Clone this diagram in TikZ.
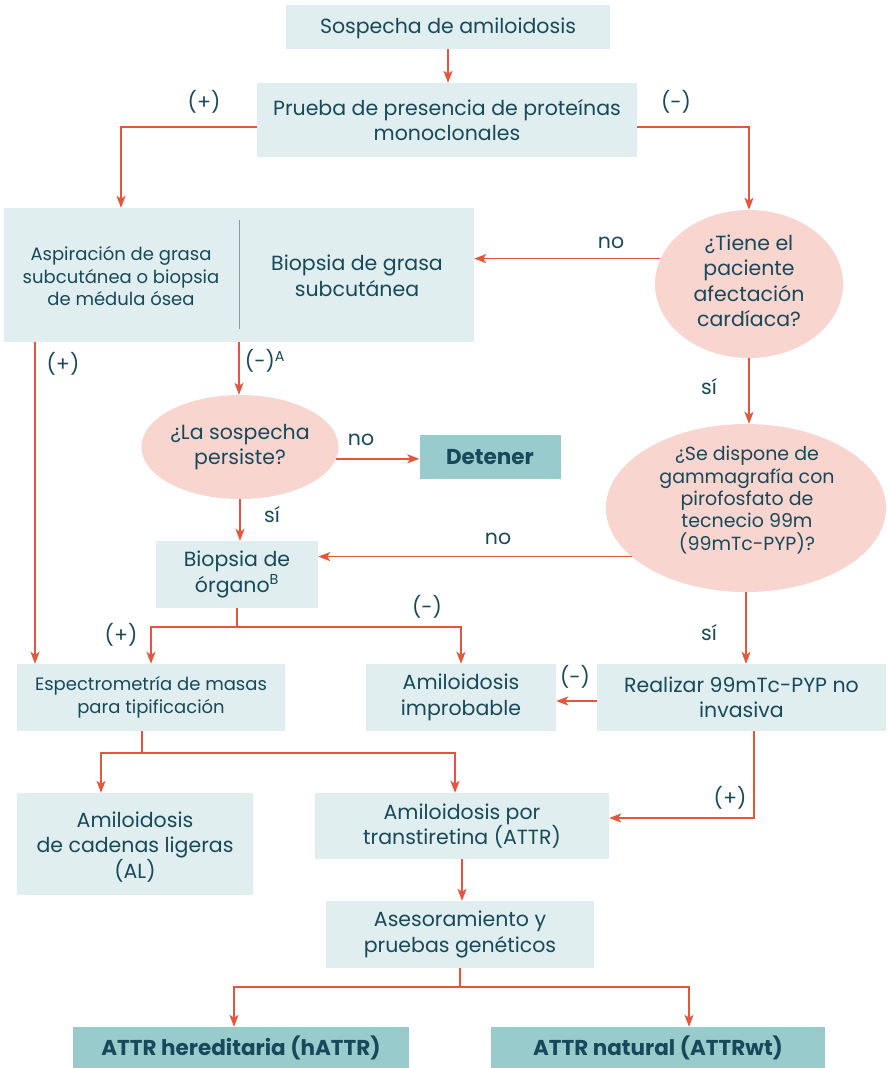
\documentclass[tikz,border=0pt]{standalone}
\usepackage{fontspec}
\setmainfont{Poppins}
\usetikzlibrary{arrows.meta,shapes.geometric}
\definecolor{boxfill}{HTML}{E0EEEF}
\definecolor{tealfill}{HTML}{97CBCC}
\definecolor{pinkfill}{HTML}{F8D5CF}
\definecolor{arrowc}{HTML}{E8553D}
\definecolor{txt}{HTML}{17495A}
\definecolor{divc}{HTML}{8A9A9E}
\tikzset{
  mainfont/.style={font=\fontsize{20.5}{25.5}\selectfont},
  smallfont/.style={font=\fontsize{18}{22.5}\selectfont},
  midfont/.style={font=\fontsize{19}{22.3}\selectfont},
  lbox/.style={fill=boxfill, inner sep=0pt, align=center, text=txt, mainfont},
  tbox/.style={fill=tealfill, inner sep=0pt, align=center, text=txt, font=\fontsize{21.5}{25}\selectfont\bfseries},
  qell/.style={ellipse, fill=pinkfill, inner sep=0pt, align=center, text=txt, mainfont},
  lab/.style={text=txt, mainfont, inner sep=0pt},
  arr/.style={draw=arrowc, line width=1.5pt, -{Stealth[length=12pt,width=9pt,inset=3pt]}},
  ln/.style={draw=arrowc, line width=1.5pt},
}
\begin{document}
\begin{tikzpicture}[x=1pt,y=-1pt]
\useasboundingbox (0,0) rectangle (888,1068);
% nodes
\node[lbox, minimum width=324pt, minimum height=44pt, text depth=3pt] (s1) at (448,27) {Sospecha de amiloidosis};
\node[lbox, minimum width=380pt, minimum height=74pt] (p) at (447,120) {Prueba de presencia de proteínas\\monoclonales};
\node[fill=boxfill, inner sep=0pt, minimum width=470pt, minimum height=134pt] (bb) at (239,275) {};
\node[text=txt, smallfont, align=center, inner sep=0pt] (bl) at (121,276) {Aspiración de grasa\\subcutánea o biopsia\\de médula ósea};
\node[text=txt, mainfont, align=center, inner sep=0pt] (br) at (357,276) {Biopsia de grasa\\subcutánea};
\coordinate (y220) at (0,220);
\coordinate (y329) at (0,329);
\draw[divc, line width=1pt] (bb.north |- y220) -- (bb.south |- y329);
\node[qell, minimum width=188pt, minimum height=148pt] (e1) at (749,284) {};
\node[text=txt, mainfont, align=center, inner sep=0pt] (e1t) at (749,281) {¿Tiene el\\paciente\\afectación\\cardíaca?};
\node[qell, minimum width=190pt, minimum height=104pt] (e2) at (240,447) {¿La sospecha\\persiste?};
\node[tbox, minimum width=141pt, minimum height=44pt] (det) at (490,457) {Detener};
\node[lbox, minimum width=162pt, minimum height=67pt] (bo) at (237,574.5) {Biopsia de\\órgano\textsuperscript{B}};
\node[qell, minimum width=280pt, minimum height=168pt] (e3) at (746,508) {};
\node[text=txt, midfont, align=center, inner sep=0pt] (e3t) at (747,500) {¿Se dispone de\\gammagrafía con\\pirofosfato de\\tecnecio 99m\\(99mTc-PYP)?};
\node[lbox, smallfont, minimum width=268pt, minimum height=67pt] (esp) at (151,697.5) {Espectrometría de masas\\para tipificación};
\node[lbox, minimum width=190pt, minimum height=67pt] (ai) at (461,697.5) {Amiloidosis\\improbable};
\node[lbox, minimum width=289pt, minimum height=67pt] (re) at (741.5,697.5) {Realizar 99mTc-PYP no\\invasiva};
\node[lbox, minimum width=236pt, minimum height=102pt] (al) at (135,844) {};
\node[text=txt, mainfont, align=center, inner sep=0pt] (alt) at (135,847) {Amiloidosis\\de cadenas ligeras\\(AL)};
\node[lbox, minimum width=294pt, minimum height=66pt] (attr) at (462,826) {Amiloidosis por\\transtiretina (ATTR)};
\node[lbox, minimum width=268pt, minimum height=67pt] (ase) at (460,934.5) {Asesoramiento y\\pruebas genéticos};
\node[tbox, minimum width=336pt, minimum height=41pt] (h) at (241,1047.5) {ATTR hereditaria (hATTR)};
\node[tbox, minimum width=334pt, minimum height=41pt] (wt) at (658,1047.5) {ATTR natural (ATTRwt)};
% helper coordinates
\coordinate (x35) at (35,0);
\coordinate (x142) at (142,0);
\coordinate (x101) at (101,0);
\coordinate (x455) at (455,0);
\coordinate (x754) at (754,0);
\coordinate (x234) at (234,0);
\coordinate (x689) at (689,0);
\coordinate (y127) at (0,127);
\coordinate (y753) at (0,753);
\coordinate (y818) at (0,818);
\coordinate (y987) at (0,987);
\coordinate (y627) at (0,627);
\coordinate (y701) at (0,701);
% connectors
\draw[arr] (s1.south) -- (s1.south |- p.north);
\draw[arr] (p.west |- y127) -| (bl |- bb.north);
\draw[arr] (p.east |- y127) -| (e1.north);
\draw[arr] (e1.164) -- (e1.164 -| bb.east);
\draw[arr] (bb.south -| x35) -- (esp.north -| x35);
\draw[arr] (bb.south) -- (bb.south |- e2.north);
\draw[arr] (e2.-7) -- (e2.-7 -| det.west);
\draw[arr] (e2.south) -- (e2.south |- bo.north);
\draw[ln] (bo.south) -- (bo.south |- y627);
\draw[arr] (bo.south |- y627) -| (esp.north);
\draw[arr] (bo.south |- y627) -| (ai.north);
\draw[arr] (e1.south) -- (e1.south |- e3.north);
\draw[arr] (e3.203) -- (e3.203 -| bo.east);
\draw[arr] (e3.south) -- (e3.south |- re.north);
\draw[arr] (re.west |- y701) -- (ai.east |- y701);
\draw[ln] (esp.south -| x142) -- (x142 |- y753);
\draw[arr] (x142 |- y753) -| (al.north -| x101);
\draw[arr] (x142 |- y753) -| (attr.north -| x455);
\draw[arr] (re.south -| x754) |- (attr.east |- y818);
\draw[arr] (attr.south) -- (attr.south |- ase.north);
\draw[ln] (ase.south) -- (ase.south |- y987);
\draw[arr] (ase.south |- y987) -| (h.north -| x234);
\draw[arr] (ase.south |- y987) -| (wt.north -| x689);
% labels
\node[lab] (l1) at (204,102) {(+)};
\node[lab] (l2) at (676,102) {(-)};
\node[lab] (l3) at (611,243) {no};
\node[lab] (l4) at (63,364) {(+)};
\node[lab] (l5) at (265,361) {(-)\textsuperscript{A}};
\node[lab] (l6) at (361,440) {no};
\node[lab] (l7) at (272,515) {sí};
\node[lab] (l8) at (709,387) {sí};
\node[lab] (l9) at (498,539) {no};
\node[lab] (l10) at (709,633) {sí};
\node[lab] (l11) at (121,635) {(+)};
\node[lab] (l12) at (427,607) {(-)};
\node[lab] (l13) at (575,677) {(-)};
\node[lab] (l14) at (730,798) {(+)};
\end{tikzpicture}
\end{document}
